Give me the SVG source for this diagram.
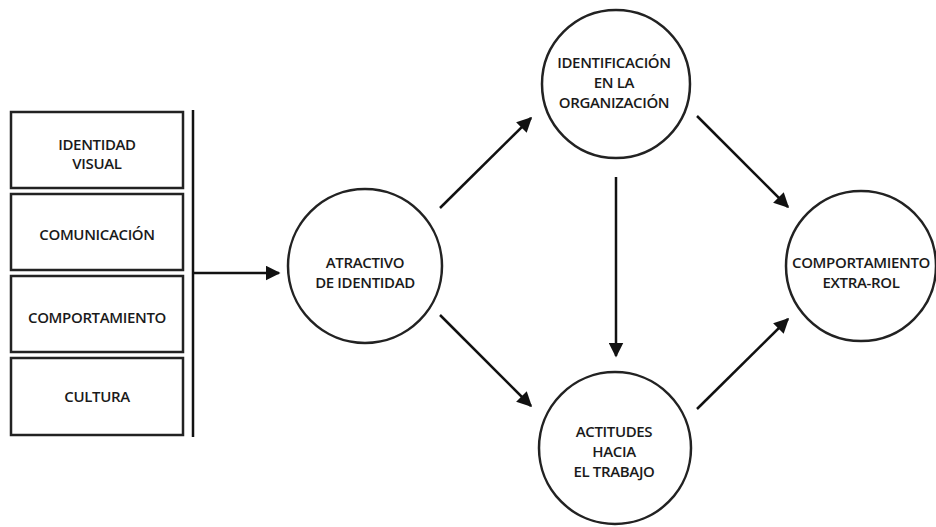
<svg xmlns="http://www.w3.org/2000/svg" width="936" height="527" viewBox="0 0 936 527">
  <style>
    .box { fill: #fff; stroke: #222; stroke-width: 2.5; }
    .node { fill: #fff; stroke: #222; stroke-width: 2.5; }
    .lbl { font-family: "Open Sans", "Liberation Sans", sans-serif; font-weight: 600; font-size: 15px; fill: #1a1a1a; text-anchor: middle; letter-spacing: -0.35px; }
    .edge { stroke: #111; stroke-width: 2.5; fill: none; marker-end: url(#arrow); }
    .bar { stroke: #111; stroke-width: 2.5; fill: none; }
  </style>
  <defs>
    <marker id="arrow" viewBox="0 0 10 10" refX="9" refY="5" markerWidth="6" markerHeight="6" orient="auto" markerUnits="strokeWidth">
      <path d="M0,0 L10,5 L0,10 z" fill="#111"/>
    </marker>
  </defs>
  <rect width="936" height="527" fill="#fff"/>

  <!-- identity components -->
  <g id="identidad-visual">
    <rect class="box" x="11" y="112" width="172" height="76"/>
    <text class="lbl" x="97" y="150">IDENTIDAD</text>
    <text class="lbl" x="97" y="169">VISUAL</text>
  </g>
  <g id="comunicacion">
    <rect class="box" x="11" y="194" width="172" height="76"/>
    <text class="lbl" x="97" y="240">COMUNICACIÓN</text>
  </g>
  <g id="comportamiento">
    <rect class="box" x="11" y="276" width="172" height="76"/>
    <text class="lbl" x="97" y="323">COMPORTAMIENTO</text>
  </g>
  <g id="cultura">
    <rect class="box" x="11" y="358" width="172" height="77"/>
    <text class="lbl" x="97" y="402">CULTURA</text>
  </g>

  <g id="atractivo">
    <circle class="node" cx="365" cy="266" r="77"/>
    <text class="lbl" x="365" y="268">ATRACTIVO</text>
    <text class="lbl" x="365" y="288">DE IDENTIDAD</text>
  </g>
  <g id="identificacion">
    <circle class="node" cx="616" cy="84" r="74"/>
    <text class="lbl" x="614" y="68">IDENTIFICACIÓN</text>
    <text class="lbl" x="614" y="88">EN LA</text>
    <text class="lbl" x="614" y="108">ORGANIZACIÓN</text>
  </g>
  <g id="actitudes">
    <circle class="node" cx="615" cy="448" r="76"/>
    <text class="lbl" x="614" y="437">ACTITUDES</text>
    <text class="lbl" x="614" y="457">HACIA</text>
    <text class="lbl" x="614" y="477">EL TRABAJO</text>
  </g>
  <g id="extra-rol">
    <circle class="node" cx="861" cy="266" r="75"/>
    <text class="lbl" x="861" y="268">COMPORTAMIENTO</text>
    <text class="lbl" x="861" y="288">EXTRA-ROL</text>
  </g>

  <g id="connectors">
    <path class="bar" d="M193,110 V437"/>
    <path class="edge" d="M193,273 H279"/>
    <path class="edge" d="M440,208 L531,118"/>
    <path class="edge" d="M440,315 L531,406"/>
    <path class="edge" d="M616,177 V356"/>
    <path class="edge" d="M697,116 L788,207"/>
    <path class="edge" d="M697,409 L788,319"/>
  </g>
</svg>
